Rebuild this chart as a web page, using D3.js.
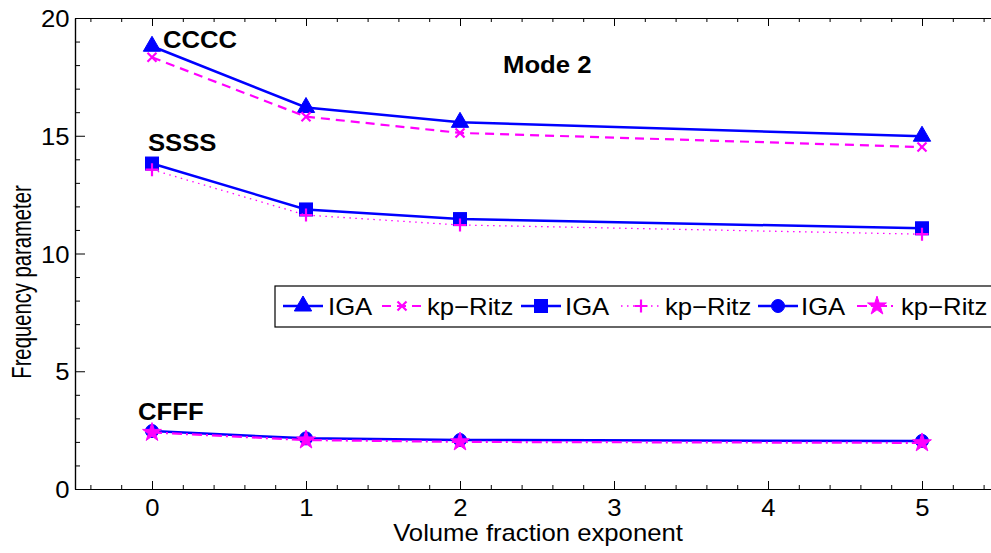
<!DOCTYPE html>
<html><head><meta charset="utf-8">
<script src="https://cdn.jsdelivr.net/npm/d3@7"></script>
<style>body{margin:0;background:#fff;} svg{display:block;} text{font-family:"Liberation Sans",Arial,sans-serif;}</style>
</head><body><svg id="c" width="991" height="553"></svg>
<script>
const exponents = [0, 1, 2, 5];
const ccccIGA  = [18.80, 16.20, 15.57, 14.98];
const ccccRitz = [18.33, 15.81, 15.12, 14.52];
const ssssIGA  = [13.82, 11.87, 11.46, 11.07];
const ssssRitz = [13.56, 11.63, 11.21, 10.82];
const cfffIGA  = [2.46, 2.15, 2.08, 2.04];
const cfffRitz = [2.40, 2.08, 2.00, 1.96];
const xTicks = [0, 1, 2, 3, 4, 5];
const yTicks = [0, 5, 10, 15, 20];
const legendLabels = ["IGA", "kp\u2212Ritz", "IGA", "kp\u2212Ritz", "IGA", "kp\u2212Ritz"];
const caseLabels = ["CCCC", "SSSS", "CFFF"];
const title = "Mode 2";

const FS = 24, SX = 1.07;
const BLUE = "#0000ff", MAG = "#ff00ff";
const svg = d3.select("#c");
const x = d3.scaleLinear().domain([-0.5, 5.5]).range([75, 999]);
const y = d3.scaleLinear().domain([0, 20]).range([489, 18]);

const xMinor = d3.range(-0.4, 5.5, 0.2).map(v => +v.toFixed(2)).filter(v => Math.abs(v - Math.round(v)) > 1e-6);
const yMinor = d3.range(1, 20, 1).filter(v => v % 5 !== 0);

function styleAxis(g){ g.selectAll("path.domain").attr("stroke","#000").attr("stroke-width",1.2); g.selectAll(".tick line").attr("stroke","#000").attr("stroke-width",1); }

// minor ticks
svg.append("g").attr("transform","translate(0,489)").call(d3.axisBottom(x).tickValues(xMinor).tickSize(-4).tickSizeOuter(0).tickFormat("")).call(styleAxis);
svg.append("g").attr("transform","translate(0,18)").call(d3.axisTop(x).tickValues(xMinor).tickSize(-4).tickSizeOuter(0).tickFormat("")).call(styleAxis);
svg.append("g").attr("transform","translate(75,0)").call(d3.axisLeft(y).tickValues(yMinor).tickSize(-5).tickSizeOuter(0).tickFormat("")).call(styleAxis);

// major ticks
const gx = svg.append("g").attr("transform","translate(0,489)").call(d3.axisBottom(x).tickValues(xTicks).tickSize(-8).tickSizeOuter(0).tickPadding(10).tickFormat(d3.format("d"))).call(styleAxis);
gx.selectAll("text").attr("fill","#000").attr("font-size",FS).attr("font-family","Liberation Sans, Arial").attr("transform",`scale(${SX},1)`).attr("dy","0.71em");
svg.append("g").attr("transform","translate(0,18)").call(d3.axisTop(x).tickValues(xTicks).tickSize(-8).tickSizeOuter(0).tickFormat("")).call(styleAxis);
const gy = svg.append("g").attr("transform","translate(75,0)").call(d3.axisLeft(y).tickValues(yTicks).tickSize(-10).tickSizeOuter(0).tickPadding(5).tickFormat(d3.format("d"))).call(styleAxis);
gy.selectAll("text").attr("fill","#000").attr("font-size",FS).attr("font-family","Liberation Sans, Arial").attr("transform",`scale(${SX},1)`).attr("dy","0.36em");

// axis labels
svg.append("text").attr("transform",`translate(538,541) scale(${SX},1)`).attr("text-anchor","middle").attr("font-size",FS).text("Volume fraction exponent");
svg.append("text").attr("transform",`translate(31,282) rotate(-90) scale(0.92,1.28)`).attr("text-anchor","middle").attr("font-size",22).text("Frequency parameter");

// symbols
const sym = {
  tri: (g, s) => g.append("path").attr("d", d3.symbol(d3.symbolTriangle, 130)()).attr("transform", s).attr("fill", BLUE).attr("stroke", BLUE).attr("stroke-width",1),
  x: (g, s) => g.append("path").attr("d","M-4.5,-4.5L4.5,4.5M-4.5,4.5L4.5,-4.5").attr("transform", s).attr("fill","none").attr("stroke", MAG).attr("stroke-width",2.2),
  sq: (g, s) => g.append("rect").attr("x",-6.5).attr("y",-6.5).attr("width",13).attr("height",13).attr("transform", s).attr("fill", BLUE).attr("stroke", BLUE).attr("stroke-width",1),
  plus: (g, s) => g.append("path").attr("d","M-6.5,0L6.5,0M0,-6.5L0,6.5").attr("transform", s).attr("fill","none").attr("stroke", MAG).attr("stroke-width",2.2),
  circ: (g, s) => g.append("circle").attr("r",6.5).attr("transform", s).attr("fill", BLUE).attr("stroke", BLUE).attr("stroke-width",1),
  star: (g, s) => g.append("path").attr("d", d3.symbol(d3.symbolStar, 110)()).attr("transform", s).attr("fill", MAG).attr("stroke", MAG).attr("stroke-width",1)
};

const series = [
  {vals: ccccIGA,  color: BLUE, w: 2.5, dash: null, m: "tri"},
  {vals: ccccRitz, color: MAG,  w: 2.2, dash: "9,6", m: "x"},
  {vals: ssssIGA,  color: BLUE, w: 2.5, dash: null, m: "sq"},
  {vals: ssssRitz, color: MAG,  w: 1.3, dash: "1.5,4.5", m: "plus"},
  {vals: cfffIGA,  color: BLUE, w: 2.5, dash: null, m: "circ"},
  {vals: cfffRitz, color: MAG,  w: 2.2, dash: "10,4,2,4", m: "star"}
];

const line = d3.line().x(d => x(d[0])).y(d => y(d[1]));
series.forEach(s => {
  const pts = exponents.map((e, i) => [e, s.vals[i]]);
  const g = svg.append("g");
  g.append("path").attr("d", line(pts)).attr("fill","none").attr("stroke", s.color).attr("stroke-width", s.w).attr("stroke-dasharray", s.dash);
  pts.forEach(p => sym[s.m](g, `translate(${x(p[0])},${y(p[1])})`));
});

// annotations
const ann = [[163, 48], [148, 151], [138, 420]];
caseLabels.forEach((t, i) => svg.append("text").attr("transform",`translate(${ann[i][0]},${ann[i][1]}) scale(${SX},1)`).attr("font-size",FS).attr("font-weight","bold").text(t));
svg.append("text").attr("transform",`translate(503,73) scale(${SX},1)`).attr("font-size",FS).attr("font-weight","bold").text(title);

// legend
const lg = svg.append("g");
lg.append("rect").attr("x",275).attr("y",286).attr("width",730).attr("height",41).attr("fill","#fff").attr("stroke","#000").attr("stroke-width",1.2);
const lgSample = [283, 382, 521, 621, 758, 857];
const lgText = [328, 427, 565, 665, 801, 901];
const ly = 306;
series.forEach((s, i) => {
  lg.append("path").attr("d", `M${lgSample[i]},${ly}L${lgSample[i]+40},${ly}`).attr("stroke", s.color).attr("stroke-width", s.w).attr("stroke-dasharray", s.dash).attr("fill","none");
  sym[s.m](lg, `translate(${lgSample[i]+20},${ly})`);
  lg.append("text").attr("transform",`translate(${lgText[i]},${ly+8.5}) scale(${SX},1)`).attr("font-size",FS).text(legendLabels[i]);
});
</script></body></html>
